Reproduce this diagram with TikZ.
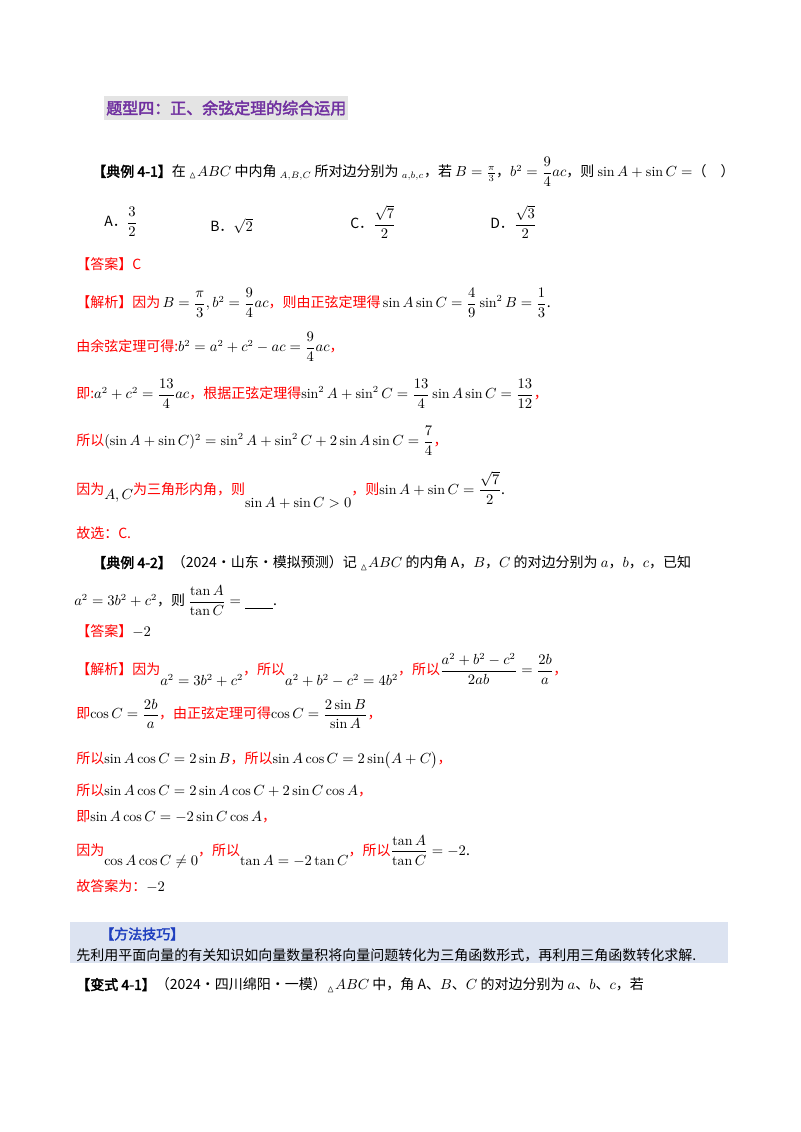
\documentclass[tikz,border=0pt]{standalone}
\usepackage{amsmath,amssymb}
\usepackage{fontspec}
\newfontfamily\cjk[AutoFakeBold=2.5]{Noto Sans CJK SC}
\definecolor{rd}{HTML}{FF0000}
\definecolor{pur}{HTML}{7030A0}
\definecolor{tbg}{HTML}{E4E4E4}
\definecolor{mbg}{HTML}{DCE3F1}
\definecolor{blu}{HTML}{1F3FBF}
\begin{document}
\begin{tikzpicture}[x=0.75pt,y=-0.75pt,
  txt/.style={anchor=west,inner sep=0pt,font=\cjk\fontsize{10.5}{12}\selectfont},
  red/.style={txt,text=rd}]
\useasboundingbox (0,0) rectangle (800,1132);
\fill[white] (0,0) rectangle (800,1132);
\fill[tbg] (104,96) rectangle (348,120);
\node[txt,text=pur,font=\cjk\bfseries\fontsize{12}{14}\selectfont] (title) at (106,108) {题型四：正、余弦定理的综合运用};
\node[txt] (e1) at (92,172) {\textbf{【典例 4-1】}在 $_{\vartriangle}ABC$ 中内角 $_{A,B,C}$ 所对边分别为 $_{a,b,c}$，若 $B=\frac{\pi}{3}$，$b^2=\dfrac94ac$，则 $\sin A+\sin C=$（\quad）};
\node[txt] (oa) at (104,222) {A．$\dfrac32$};
\node[txt] (ob) at (210,226) {B．$\sqrt2$};
\node[txt] (oc) at (350,222) {C．$\dfrac{\sqrt7}{2}$};
\node[txt] (od) at (490,222) {D．$\dfrac{\sqrt3}{2}$};
\node[red] (ans1) at (76,264) {【答案】C};
\node[red] (s1) at (76,303) {【解析】因为\,\textcolor{black}{$B=\dfrac{\pi}{3},b^2=\dfrac94ac$}，则由正弦定理得\,\textcolor{black}{$\sin A\sin C=\dfrac49\sin^2B=\dfrac13$.}};
\node[red] (s2) at (76,347) {由余弦定理可得:\textcolor{black}{$b^2=a^2+c^2-ac=\dfrac94ac$}，};
\node[red] (s3) at (76,394) {即:\textcolor{black}{$a^2+c^2=\dfrac{13}{4}ac$}，根据正弦定理得\textcolor{black}{$\sin^2A+\sin^2C=\dfrac{13}{4}\sin A\sin C=\dfrac{13}{12}$}，};
\node[red] (s4) at (76,441) {所以\textcolor{black}{$(\sin A+\sin C)^2=\sin^2A+\sin^2C+2\sin A\sin C=\dfrac74$}，};
\node[red] (s5) at (76,490) {因为\raisebox{-4pt}{\textcolor{black}{$A,C$}}为三角形内角，则\raisebox{-10pt}{\textcolor{black}{$\sin A+\sin C>0$}}，则\textcolor{black}{$\sin A+\sin C=\dfrac{\sqrt7}{2}$.}};
\node[red] (s6) at (76,533) {故选：C.};
\node[txt] (e2) at (92,563) {\textbf{【典例 4-2】}（2024·山东·模拟预测）记 $_{\vartriangle}ABC$ 的内角 A，$B$，$C$ 的对边分别为 $a$，$b$，$c$，已知};
\node[txt] (e2b) at (74,601) {$a^2=3b^2+c^2$，则 $\dfrac{\tan A}{\tan C}=\underline{\qquad}$.};
\node[red] (ans2) at (76,631) {【答案】\textcolor{black}{$-2$}};
\node[red] (t1) at (76,670) {【解析】因为\raisebox{-8pt}{\textcolor{black}{$a^2=3b^2+c^2$}}，所以\raisebox{-8pt}{\textcolor{black}{$a^2+b^2-c^2=4b^2$}}，所以\textcolor{black}{$\dfrac{a^2+b^2-c^2}{2ab}=\dfrac{2b}{a}$}，};
\node[red] (t2) at (76,714) {即\textcolor{black}{$\cos C=\dfrac{2b}{a}$}，由正弦定理可得\textcolor{black}{$\cos C=\dfrac{2\sin B}{\sin A}$}，};
\node[red] (t3) at (76,760) {所以\textcolor{black}{$\sin A\cos C=2\sin B$}，所以\textcolor{black}{$\sin A\cos C=2\sin\bigl(A+C\bigr)$}，};
\node[red] (t4) at (76,790) {所以\textcolor{black}{$\sin A\cos C=2\sin A\cos C+2\sin C\cos A$}，};
\node[red] (t5) at (76,817) {即\textcolor{black}{$\sin A\cos C=-2\sin C\cos A$}，};
\node[red] (t6) at (76,852) {因为\raisebox{-8pt}{\textcolor{black}{$\cos A\cos C\neq0$}}，所以\raisebox{-8pt}{\textcolor{black}{$\tan A=-2\tan C$}}，所以\textcolor{black}{$\dfrac{\tan A}{\tan C}=-2$.}};
\node[red] (t7) at (76,886) {故答案为：\textcolor{black}{$-2$}};
\fill[mbg] (70,922) rectangle (728,963);
\node[txt,text=blu] (m1) at (100,934) {\textbf{【方法技巧】}};
\node[txt] (m2) at (76,955) {先利用平面向量的有关知识如向量数量积将向量问题转化为三角函数形式，再利用三角函数转化求解.};
\node[txt] (v1) at (76,985) {\textbf{【变式 4-1】}（2024·四川绵阳·一模）$_{\vartriangle}ABC$ 中，角 A、$B$、$C$ 的对边分别为 $a$、$b$、$c$，若};
\end{tikzpicture}
\end{document}
